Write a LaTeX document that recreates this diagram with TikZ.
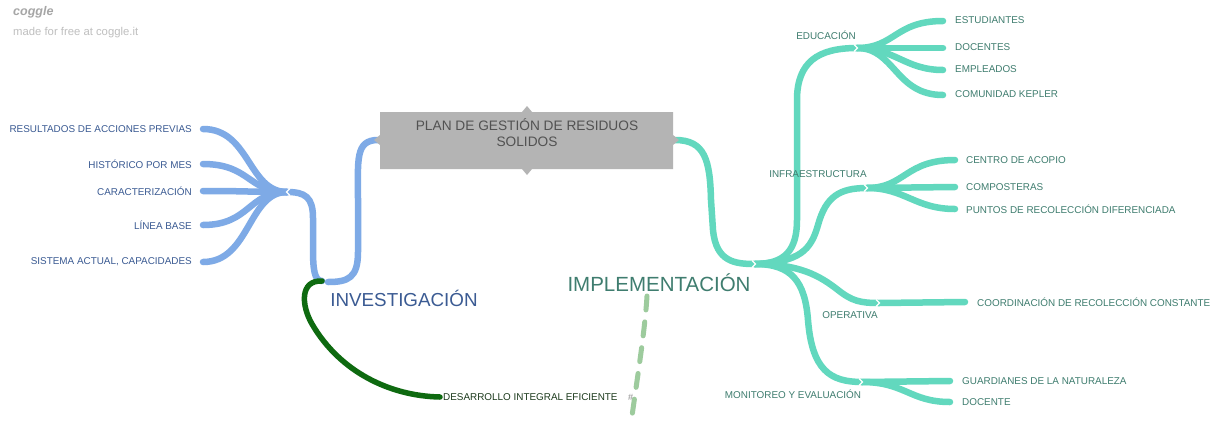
\documentclass[tikz,border=0pt]{standalone}
\usepackage{fontspec}
\setmainfont{Liberation Sans}
\usetikzlibrary{calc}
\begin{document}
\begin{tikzpicture}[x=1pt,y=-1pt,
  blueline/.style={draw=bl,line width=6.5pt,line cap=round},
  tealline/.style={draw=tl,line width=6.5pt,line cap=round},
  greenline/.style={draw=gr,line width=5.5pt,line cap=round},
  lbl/.style={inner sep=0pt,font=\fontsize{9.9}{11}\selectfont},
  bltxt/.style={lbl,text=bltext,anchor=east},
  tltxt/.style={lbl,text=tltext,anchor=west},
  tlmid/.style={lbl,text=tltext},
  chev/.style={draw=white,line width=1.1pt}
]
\definecolor{bl}{HTML}{7EAAE6}
\definecolor{tl}{HTML}{62D8BE}
\definecolor{gr}{HTML}{0E6A10}
\definecolor{bltext}{HTML}{3B5B93}
\definecolor{tltext}{HTML}{3F7D6F}
\definecolor{grtext}{HTML}{1D3B1D}
\definecolor{boxgray}{HTML}{B4B4B4}
\definecolor{dashg}{HTML}{9DCB9D}
\useasboundingbox (0,0) rectangle (1213,421);
\fill[white] (0,0) rectangle (1213,421);

% logo
\node[anchor=west,inner sep=0pt,text=black!35,font=\fontsize{12.5}{13}\selectfont\itshape\bfseries] (logo) at (13,12) {coggle};
\node[anchor=west,inner sep=0pt,text=black!25,font=\fontsize{11.3}{12}\selectfont] (made) at (13,33) {made for free at coggle.it};

% coordinates
\coordinate (boxL) at (378,140);
\coordinate (boxR) at (675,140);
\coordinate (inv) at (328,282);
\coordinate (invS) at (322,281);
\coordinate (lhub) at (287,192);
\coordinate (e1) at (203,129);
\coordinate (e2) at (203,164);
\coordinate (e3) at (203,191);
\coordinate (e4) at (203,225);
\coordinate (e5) at (203,262);
\coordinate (ihub) at (755,264);
\coordinate (edu) at (857,48);
\coordinate (inf) at (867,188);
\coordinate (ope) at (879,303);
\coordinate (mon) at (862,382);
\coordinate (d1) at (943,21);
\coordinate (d2) at (943,48);
\coordinate (d3) at (943,70);
\coordinate (d4) at (943,95);
\coordinate (f1) at (955,160);
\coordinate (f2) at (955,187);
\coordinate (f3) at (955,209);
\coordinate (o1) at (965,302);
\coordinate (m1) at (950,381);
\coordinate (m2) at (950,402);
\coordinate (dev) at (440,397);
\coordinate (dashA) at (647,296);
\coordinate (dashB) at (632,416);

% blue branches
\draw[blueline] (boxL) .. controls (355,140) and (358,160) .. (358,200) -- (358,252) .. controls (358,278) and (348,282) .. (inv);
\draw[blueline] (invS) .. controls (314,281) and (313,268) .. (313,248) -- (313,218) .. controls (313,197) and (305,192) .. (lhub);
\foreach \e in {e1,e2,e3,e4,e5}
  \draw[blueline] (lhub) .. controls (248,192) and ($(\e)+(47,0)$) .. (\e);

% green branch
\draw[greenline] (invS) .. controls (300,280) and (301,305) .. (312,324) .. controls (340,372) and (390,396) .. (dev);

% dashed
\draw[draw=dashg,line width=5pt,line cap=round,dash pattern=on 14pt off 12pt] (dashA) .. controls (645,330) and (637,380) .. (dashB);

% teal branches
\draw[tealline] (boxR) .. controls (705,140) and (710,160) .. (711,200) -- (713,230) .. controls (716,262) and (735,264) .. (ihub);
\draw[tealline] (ihub) .. controls (785,264) and (797,250) .. (797,220) -- (797,100) .. controls (797,62) and (818,48) .. (edu);
\draw[tealline] (ihub) .. controls (800,262) and (811,250) .. (818,225) .. controls (826,196) and (840,188) .. (inf);
\draw[tealline] (ihub) .. controls (800,264) and (820,276) .. (838,290) .. controls (852,301) and (860,303) .. (ope);
\draw[tealline] (ihub) .. controls (792,264) and (805,282) .. (808,320) .. controls (812,370) and (830,382) .. (mon);
\draw[tealline] (edu) .. controls (895,48) and (895,21) .. (d1);
\draw[tealline] (edu) -- (d2);
\draw[tealline] (edu) .. controls (895,48) and (905,70) .. (d3);
\draw[tealline] (edu) .. controls (895,48) and (895,95) .. (d4);
\draw[tealline] (inf) .. controls (905,188) and (905,160) .. (f1);
\draw[tealline] (inf) -- (f2);
\draw[tealline] (inf) .. controls (905,188) and (915,209) .. (f3);
\draw[tealline] (ope) -- (o1);
\draw[tealline] (mon) -- (m1);
\draw[tealline] (mon) .. controls (905,382) and (910,402) .. (m2);

% chevrons
\foreach \p in {ihub,edu,inf,ope,mon}
  \draw[chev] ($(\p)+(-3,-3.5)$) -- ($(\p)+(0.5,0)$) -- ($(\p)+(-3,3.5)$);
\draw[chev] ($(lhub)+(3,-3.5)$) -- ($(lhub)+(-0.5,0)$) -- ($(lhub)+(3,3.5)$);

% central box
\fill[boxgray] (380,112) -- (522,112) -- (527,106) -- (532,112) -- (673,112) -- (673,135) -- (679,140) -- (673,145) -- (673,169) -- (532,169) -- (527,175) -- (522,169) -- (380,169) -- (380,145) -- (374,140) -- (380,135) -- cycle;
\node[inner sep=0pt,align=center,text=black!68,font=\fontsize{13.7}{16}\selectfont] (plan) at (527,133) {PLAN DE GESTIÓN DE RESIDUOS\\SOLIDOS};

% left labels
\node[bltxt] (t1) at (192,129) {RESULTADOS DE ACCIONES PREVIAS};
\node[bltxt] (t2) at (192,164) {HISTÓRICO POR MES};
\node[bltxt] (t3) at (192,191) {CARACTERIZACIÓN};
\node[bltxt] (t4) at (192,225) {LÍNEA BASE};
\node[bltxt] (t5) at (192,262) {SISTEMA ACTUAL, CAPACIDADES};

\node[inner sep=0pt,font=\fontsize{18.8}{20}\selectfont,text=bltext] (tinv) at (404,298) {INVESTIGACIÓN};
\node[inner sep=0pt,font=\fontsize{20.5}{22}\selectfont,text=tltext] (timp) at (659,283) {IMPLEMENTACIÓN};
\node[lbl,anchor=west,text=grtext] (tdev) at (443,397) {DESARROLLO INTEGRAL EFICIENTE};
\node[inner sep=0pt,anchor=west,text=black!45,font=\fontsize{9}{10}\selectfont] (hash) at (628,397) {\#};

% teal labels
\node[tlmid] (tedu) at (826,35) {EDUCACIÓN};
\node[tlmid] (tinf) at (818,174) {INFRAESTRUCTURA};
\node[tlmid] (tope) at (850,315) {OPERATIVA};
\node[tlmid] (tmon) at (793,394) {MONITOREO Y EVALUACIÓN};
\node[tltxt] (u1) at (955,20) {ESTUDIANTES};
\node[tltxt] (u2) at (955,47) {DOCENTES};
\node[tltxt] (u3) at (955,69) {EMPLEADOS};
\node[tltxt] (u4) at (955,94) {COMUNIDAD KEPLER};
\node[tltxt] (v1) at (966,160) {CENTRO DE ACOPIO};
\node[tltxt] (v2) at (966,187) {COMPOSTERAS};
\node[tltxt] (v3) at (966,209) {PUNTOS DE RECOLECCIÓN DIFERENCIADA};
\node[tltxt] (w1) at (977,302) {COORDINACIÓN DE RECOLECCIÓN CONSTANTE};
\node[tltxt] (z1) at (962,381) {GUARDIANES DE LA NATURALEZA};
\node[tltxt] (z2) at (962,402) {DOCENTE};
\end{tikzpicture}
\end{document}
